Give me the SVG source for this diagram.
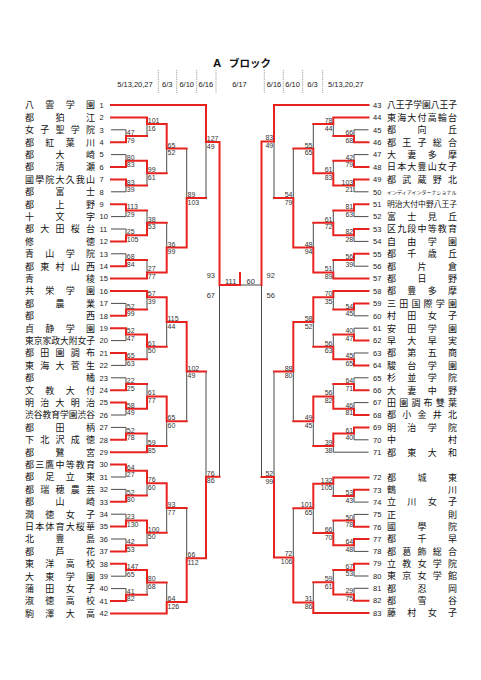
<svg xmlns="http://www.w3.org/2000/svg" width="481" height="680" viewBox="0 0 481 680">
<style>
.k{fill:none;stroke:#4a4a4a;stroke-width:1}
.r{fill:none;stroke:#e8231f;stroke-width:2;stroke-linecap:square}
.dv{fill:none;stroke:#8a8a8a;stroke-width:0.8;stroke-dasharray:1.2 1}
.nm{font-family:"Noto Sans CJK JP","Noto Sans CJK SC",sans-serif;font-size:9px;fill:#111}
.nm8{font-family:"Noto Sans CJK JP","Noto Sans CJK SC",sans-serif;font-size:8.75px;fill:#111}
.nm9{font-family:"Noto Sans CJK JP","Noto Sans CJK SC",sans-serif;font-size:7.8px;fill:#111}
.nms{font-family:"Noto Sans CJK JP","Noto Sans CJK SC",sans-serif;font-size:5px;fill:#111}
.no{font-family:"Liberation Sans",Arial,sans-serif;font-size:7.5px;fill:#222}
.hd{font-family:"Liberation Sans",Arial,sans-serif;font-size:7.5px;fill:#222;text-anchor:middle}
.sl text{font-family:"Liberation Sans",Arial,sans-serif;font-size:7px;fill:#333}
.sr text{font-family:"Liberation Sans",Arial,sans-serif;font-size:7px;fill:#333;text-anchor:end}
.big{font-family:"Liberation Sans",Arial,sans-serif;font-size:7.5px;fill:#333}
</style>
<rect width="481" height="680" fill="#fff"/>
<g id="header">
<text x="213" y="67" font-family="Liberation Sans,Arial,sans-serif" font-weight="bold" font-size="11.5" fill="#111">A</text>
<text x="229" y="67" font-family="Noto Sans CJK JP,sans-serif" font-weight="bold" font-size="10.5" fill="#111">ブロック</text>
<text class="hd" x="135" y="86.5">5/13,20,27</text>
<text class="hd" x="167.3" y="86.5">6/3</text>
<text class="hd" x="186.7" y="86.5">6/10</text>
<text class="hd" x="205.8" y="86.5">6/16</text>
<text class="hd" x="239.5" y="86.5">6/17</text>
<text class="hd" x="274" y="86.5">6/16</text>
<text class="hd" x="292.6" y="86.5">6/10</text>
<text class="hd" x="312.5" y="86.5">6/3</text>
<text class="hd" x="345.8" y="86.5">5/13,20,27</text>
<path class="dv" d="M158.3 70V93M176.7 70V93M196.7 70V93M216 70V93M264.3 70V93M283.3 70V93M302.7 70V93M322.7 70V93"/>
</g>
<g id="connectors">
<path class="k" d="M111 129.8H126V136M147 136V124M111 154.6H126V160.8M111 191.8H126V185.6M147 185.6V173.2M166.7 173.2V148.6M111 216.6H126V210.4M111 229H126V235.2M147 210.4V222.8M111 253.8H126V260M147 260V272.4M166.7 222.8V247.6M186.7 148.6V198.1M206 198.1V142M111 303.4H126V309.6M147 309.6V297.2M111 340.6H126V334.4M111 365.4H126V359.2M147 359.2V346.8M166.7 346.8V322M111 377.8H126V384M111 415H126V408.8M147 384V396.4M111 427.4H126V433.6M147 433.6V446M166.7 446V421.2M186.7 421.2V371.6M111 477H126V470.8M111 489.4H126V495.6M147 495.6V483.2M111 514.2H126V520.4M111 539H126V545.2M147 545.2V532.8M166.7 532.8V508M111 576.2H126V570M111 588.6H126V594.8M147 594.8V582.4M166.7 582.4V602M186.7 508V558.3M206 371.6V476.7M219.5 476.7V285M261.5 285H240"/>
<path class="k" d="M368.5 129.8H354V136M333.3 136V124M368.5 154.6H354V160.8M368.5 191.8H354V185.6M333.3 160.8V173.2M313.3 124V148.6M368.5 216.6H354V210.4M368.5 241.4H354V235.2M333.3 210.4V222.8M368.5 266.2H354V260M333.3 260V272.4M313.3 222.8V247.6M293.3 148.6V198.1M274 198.1V141.5M368.5 315.8H354V309.6M333.3 309.6V297.2M368.5 328.2H354V334.4M368.5 353H354V359.2M333.3 334.4V346.8M313.3 346.8V322M368.5 377.8H354V384M368.5 402.6H354V408.8M333.3 384V396.4M368.5 439.8H354V433.6M368.5 452.2H333.3V446M313.3 446V421.2M293.3 421.2V371.6M368.5 502.1H354V496M333.3 496V483.7M368.5 514.4H354V520.6M368.5 551.4H354V545.3M333.3 520.6V533M313.3 533V508.3M368.5 576H354V569.9M368.5 588.3H354V594.5M333.3 569.9V582.2M313.3 582.2V602.5M293.3 508.3V557.5M274 371.6V477M261.5 477V285"/>
<path class="r" d="M111 142.2H126V136M111 117.4H147V124M126 136H147M111 167H126V160.8M111 179.4H126V185.6M126 160.8H147V173.2M126 185.6H147M147 124H166.7V148.6M147 173.2H166.7M111 204.2H126V210.4M111 241.4H126V235.2M126 210.4H147M126 235.2H147V222.8M111 266.2H126V260M126 260H147M111 278.6H147V272.4M147 222.8H166.7M147 272.4H166.7V247.6M166.7 148.6H186.7M166.7 247.6H186.7V198.1M111 105H206V142M186.7 198.1H206M111 315.8H126V309.6M111 291H147V297.2M126 309.6H147M111 328.2H126V334.4M111 353H126V359.2M126 334.4H147V346.8M126 359.2H147M147 297.2H166.7V322M147 346.8H166.7M111 390.2H126V384M111 402.6H126V408.8M126 384H147M126 408.8H147V396.4M111 439.8H126V433.6M126 433.6H147M111 452.2H147V446M147 396.4H166.7V421.2M147 446H166.7M166.7 322H186.7V371.6M166.7 421.2H186.7M111 464.6H126V470.8M111 501.8H126V495.6M126 470.8H147V483.2M126 495.6H147M111 526.6H126V520.4M111 551.4H126V545.2M126 520.4H147V532.8M126 545.2H147M147 483.2H166.7V508M147 532.8H166.7M111 563.8H126V570M111 601H126V594.8M126 570H147V582.4M126 594.8H147M147 582.4H166.7M111 613.4H166.7V602M166.7 508H186.7M166.7 602H186.7V558.3M186.7 371.6H206M186.7 558.3H206V476.7M206 142H219.5V285M206 476.7H219.5M219.5 285H240M240 285V273"/>
<path class="r" d="M368.5 142.2H354V136M368.5 117.4H333.3V124M354 136H333.3M368.5 167H354V160.8M368.5 179.4H354V185.6M354 160.8H333.3M354 185.6H333.3V173.2M333.3 124H313.3M333.3 173.2H313.3V148.6M368.5 204.2H354V210.4M368.5 229H354V235.2M354 210.4H333.3M354 235.2H333.3V222.8M368.5 253.8H354V260M354 260H333.3M368.5 278.6H333.3V272.4M333.3 222.8H313.3M333.3 272.4H313.3V247.6M313.3 148.6H293.3M313.3 247.6H293.3V198.1M368.5 105H274V141.5M293.3 198.1H274M368.5 303.4H354V309.6M368.5 291H333.3V297.2M354 309.6H333.3M368.5 340.6H354V334.4M368.5 365.4H354V359.2M354 334.4H333.3M354 359.2H333.3V346.8M333.3 297.2H313.3V322M333.3 346.8H313.3M368.5 390.2H354V384M368.5 415H354V408.8M354 384H333.3M354 408.8H333.3V396.4M368.5 427.4H354V433.6M354 433.6H333.3V446M333.3 396.4H313.3V421.2M333.3 446H313.3M313.3 322H293.3V371.6M313.3 421.2H293.3M368.5 489.8H354V496M368.5 477.5H333.3V483.7M354 496H333.3M368.5 526.8H354V520.6M368.5 539.1H354V545.3M354 520.6H333.3M354 545.3H333.3V533M333.3 483.7H313.3V508.3M333.3 533H313.3M368.5 563.7H354V569.9M368.5 600.7H354V594.5M354 569.9H333.3M354 594.5H333.3V582.2M333.3 582.2H313.3M368.5 613H313.3V602.5M313.3 508.3H293.3M313.3 602.5H293.3V557.5M293.3 371.6H274M293.3 557.5H274V477M274 141.5H261.5V285M274 477H261.5"/>
</g>
<g id="scores-left" class="sl">
<g transform="translate(126.8 136)"><text y="-1.1">47</text><text y="6.6">79</text></g>
<g transform="translate(147.8 124)"><text y="-1.1">101</text><text y="6.6">16</text></g>
<g transform="translate(126.8 160.8)"><text y="-1.1">80</text><text y="6.6">83</text></g>
<g transform="translate(126.8 185.6)"><text y="-1.1">83</text><text y="6.6">39</text></g>
<g transform="translate(147.8 173.2)"><text y="-1.1">99</text><text y="6.6">61</text></g>
<g transform="translate(167.5 148.6)"><text y="-1.1">65</text><text y="6.6">52</text></g>
<g transform="translate(126.8 210.4)"><text y="-1.1">113</text><text y="6.6">29</text></g>
<g transform="translate(126.8 235.2)"><text y="-1.1">25</text><text y="6.6">105</text></g>
<g transform="translate(147.8 222.8)"><text y="-1.1">38</text><text y="6.6">53</text></g>
<g transform="translate(126.8 260)"><text y="-1.1">68</text><text y="6.6">84</text></g>
<g transform="translate(147.8 272.4)"><text y="-1.1">27</text><text y="6.6">77</text></g>
<g transform="translate(167.5 247.6)"><text y="-1.1">36</text><text y="6.6">99</text></g>
<g transform="translate(187.5 198.1)"><text y="-1.1">89</text><text y="6.6">103</text></g>
<g transform="translate(206.8 142)"><text y="-1.1">127</text><text y="6.6">49</text></g>
<g transform="translate(126.8 309.6)"><text y="-1.1">52</text><text y="6.6">99</text></g>
<g transform="translate(147.8 297.2)"><text y="-1.1">57</text><text y="6.6">39</text></g>
<g transform="translate(126.8 334.4)"><text y="-1.1">52</text><text y="6.6">47</text></g>
<g transform="translate(126.8 359.2)"><text y="-1.1">65</text><text y="6.6">63</text></g>
<g transform="translate(147.8 346.8)"><text y="-1.1">61</text><text y="6.6">50</text></g>
<g transform="translate(167.5 322)"><text y="-1.1">115</text><text y="6.6">44</text></g>
<g transform="translate(126.8 384)"><text y="-1.1">22</text><text y="6.6">25</text></g>
<g transform="translate(126.8 408.8)"><text y="-1.1">58</text><text y="6.6">49</text></g>
<g transform="translate(147.8 396.4)"><text y="-1.1">61</text><text y="6.6">77</text></g>
<g transform="translate(126.8 433.6)"><text y="-1.1">52</text><text y="6.6">78</text></g>
<g transform="translate(147.8 446)"><text y="-1.1">59</text><text y="6.6">85</text></g>
<g transform="translate(167.5 421.2)"><text y="-1.1">65</text><text y="6.6">60</text></g>
<g transform="translate(187.5 371.6)"><text y="-1.1">102</text><text y="6.6">49</text></g>
<g transform="translate(126.8 470.8)"><text y="-1.1">64</text><text y="6.6">27</text></g>
<g transform="translate(126.8 495.6)"><text y="-1.1">52</text><text y="6.6">80</text></g>
<g transform="translate(147.8 483.2)"><text y="-1.1">76</text><text y="6.6">60</text></g>
<g transform="translate(126.8 520.4)"><text y="-1.1">23</text><text y="6.6">130</text></g>
<g transform="translate(126.8 545.2)"><text y="-1.1">42</text><text y="6.6">53</text></g>
<g transform="translate(147.8 532.8)"><text y="-1.1">100</text><text y="6.6">50</text></g>
<g transform="translate(167.5 508)"><text y="-1.1">93</text><text y="6.6">77</text></g>
<g transform="translate(126.8 570)"><text y="-1.1">147</text><text y="6.6">65</text></g>
<g transform="translate(126.8 594.8)"><text y="-1.1">41</text><text y="6.6">82</text></g>
<g transform="translate(147.8 582.4)"><text y="-1.1">80</text><text y="6.6">68</text></g>
<g transform="translate(167.5 602)"><text y="-1.1">64</text><text y="6.6">126</text></g>
<g transform="translate(187.5 558.3)"><text y="-1.1">66</text><text y="6.6">112</text></g>
<g transform="translate(206.8 476.7)"><text y="-1.1">76</text><text y="6.6">86</text></g>
</g>
<g id="scores-right" class="sr">
<g transform="translate(353.2 136)"><text y="-1.1">66</text><text y="6.6">68</text></g>
<g transform="translate(332.5 124)"><text y="-1.1">78</text><text y="6.6">44</text></g>
<g transform="translate(353.2 160.8)"><text y="-1.1">42</text><text y="6.6">79</text></g>
<g transform="translate(353.2 185.6)"><text y="-1.1">103</text><text y="6.6">21</text></g>
<g transform="translate(332.5 173.2)"><text y="-1.1">61</text><text y="6.6">83</text></g>
<g transform="translate(312.5 148.6)"><text y="-1.1">55</text><text y="6.6">65</text></g>
<g transform="translate(353.2 210.4)"><text y="-1.1">81</text><text y="6.6">63</text></g>
<g transform="translate(353.2 235.2)"><text y="-1.1">82</text><text y="6.6">28</text></g>
<g transform="translate(332.5 222.8)"><text y="-1.1">61</text><text y="6.6">72</text></g>
<g transform="translate(353.2 260)"><text y="-1.1">56</text><text y="6.6">39</text></g>
<g transform="translate(332.5 272.4)"><text y="-1.1">51</text><text y="6.6">89</text></g>
<g transform="translate(312.5 247.6)"><text y="-1.1">48</text><text y="6.6">94</text></g>
<g transform="translate(292.5 198.1)"><text y="-1.1">54</text><text y="6.6">79</text></g>
<g transform="translate(273.2 141.5)"><text y="-1.1">83</text><text y="6.6">49</text></g>
<g transform="translate(353.2 309.6)"><text y="-1.1">54</text><text y="6.6">45</text></g>
<g transform="translate(332.5 297.2)"><text y="-1.1">70</text><text y="6.6">35</text></g>
<g transform="translate(353.2 334.4)"><text y="-1.1">40</text><text y="6.6">47</text></g>
<g transform="translate(353.2 359.2)"><text y="-1.1">45</text><text y="6.6">65</text></g>
<g transform="translate(332.5 346.8)"><text y="-1.1">56</text><text y="6.6">63</text></g>
<g transform="translate(312.5 322)"><text y="-1.1">58</text><text y="6.6">52</text></g>
<g transform="translate(353.2 384)"><text y="-1.1">64</text><text y="6.6">71</text></g>
<g transform="translate(353.2 408.8)"><text y="-1.1">46</text><text y="6.6">81</text></g>
<g transform="translate(332.5 396.4)"><text y="-1.1">56</text><text y="6.6">82</text></g>
<g transform="translate(353.2 433.6)"><text y="-1.1">61</text><text y="6.6">40</text></g>
<g transform="translate(332.5 446)"><text y="-1.1">39</text><text y="6.6">38</text></g>
<g transform="translate(312.5 421.2)"><text y="-1.1">49</text><text y="6.6">45</text></g>
<g transform="translate(292.5 371.6)"><text y="-1.1">88</text><text y="6.6">80</text></g>
<g transform="translate(353.2 496)"><text y="-1.1">53</text><text y="6.6">43</text></g>
<g transform="translate(332.5 483.7)"><text y="-1.1">132</text><text y="6.6">105</text></g>
<g transform="translate(353.2 520.6)"><text y="-1.1">50</text><text y="6.6">78</text></g>
<g transform="translate(353.2 545.3)"><text y="-1.1">64</text><text y="6.6">48</text></g>
<g transform="translate(332.5 533)"><text y="-1.1">66</text><text y="6.6">70</text></g>
<g transform="translate(312.5 508.3)"><text y="-1.1">101</text><text y="6.6">65</text></g>
<g transform="translate(353.2 569.9)"><text y="-1.1">67</text><text y="6.6">53</text></g>
<g transform="translate(353.2 594.5)"><text y="-1.1">29</text><text y="6.6">75</text></g>
<g transform="translate(332.5 582.2)"><text y="-1.1">59</text><text y="6.6">61</text></g>
<g transform="translate(312.5 602.5)"><text y="-1.1">31</text><text y="6.6">86</text></g>
<g transform="translate(292.5 557.5)"><text y="-1.1">72</text><text y="6.6">106</text></g>
<g transform="translate(273.2 477)"><text y="-1.1">52</text><text y="6.6">99</text></g>
</g>
<g id="scores-final">
<text class="big" x="215" y="278" text-anchor="end">93</text>
<text class="big" x="215" y="297.5" text-anchor="end">67</text>
<text class="big" x="266.5" y="278">92</text>
<text class="big" x="266.5" y="297.5">56</text>
<text class="big" x="225" y="283.8">111</text>
<text class="big" x="246.5" y="283.8">60</text>
</g>
<g id="teams-left">
<g id="t1" transform="translate(0 105)"><text class="nm" x="25 45.3 65.7 86" y="3.3">八雲学園</text><text class="no" x="99.5" y="2.7">1</text></g>
<g id="t2" transform="translate(0 117.4)"><text class="nm" x="25 55.5 86" y="3.3">都狛江</text><text class="no" x="99.5" y="2.7">2</text></g>
<g id="t3" transform="translate(0 129.8)"><text class="nm" x="25 40.3 55.5 70.8 86" y="3.3">女子聖学院</text><text class="no" x="99.5" y="2.7">3</text></g>
<g id="t4" transform="translate(0 142.2)"><text class="nm" x="25 45.3 65.7 86" y="3.3">都紅葉川</text><text class="no" x="99.5" y="2.7">4</text></g>
<g id="t5" transform="translate(0 154.6)"><text class="nm" x="25 55.5 86" y="3.3">都大崎</text><text class="no" x="99.5" y="2.7">5</text></g>
<g id="t6" transform="translate(0 167)"><text class="nm" x="25 55.5 86" y="3.3">都清瀬</text><text class="no" x="99.5" y="2.7">6</text></g>
<g id="t7" transform="translate(0 179.4)"><text class="nm" x="25 35.2 45.3 55.5 65.7 75.8 86" y="3.3">國學院大久我山</text><text class="no" x="99.5" y="2.7">7</text></g>
<g id="t8" transform="translate(0 191.8)"><text class="nm" x="25 55.5 86" y="3.3">都富士</text><text class="no" x="99.5" y="2.7">8</text></g>
<g id="t9" transform="translate(0 204.2)"><text class="nm" x="25 55.5 86" y="3.3">都上野</text><text class="no" x="99.5" y="2.7">9</text></g>
<g id="t10" transform="translate(0 216.6)"><text class="nm" x="25 55.5 86" y="3.3">十文字</text><text class="no" x="99.5" y="2.7">10</text></g>
<g id="t11" transform="translate(0 229)"><text class="nm" x="25 40.3 55.5 70.8 86" y="3.3">都大田桜台</text><text class="no" x="99.5" y="2.7">11</text></g>
<g id="t12" transform="translate(0 241.4)"><text class="nm" x="25 86" y="3.3">修徳</text><text class="no" x="99.5" y="2.7">12</text></g>
<g id="t13" transform="translate(0 253.8)"><text class="nm" x="25 45.3 65.7 86" y="3.3">青山学院</text><text class="no" x="99.5" y="2.7">13</text></g>
<g id="t14" transform="translate(0 266.2)"><text class="nm" x="25 40.3 55.5 70.8 86" y="3.3">都東村山西</text><text class="no" x="99.5" y="2.7">14</text></g>
<g id="t15" transform="translate(0 278.6)"><text class="nm" x="25 86" y="3.3">青稜</text><text class="no" x="99.5" y="2.7">15</text></g>
<g id="t16" transform="translate(0 291)"><text class="nm" x="25 45.3 65.7 86" y="3.3">共栄学園</text><text class="no" x="99.5" y="2.7">16</text></g>
<g id="t17" transform="translate(0 303.4)"><text class="nm" x="25 55.5 86" y="3.3">都農業</text><text class="no" x="99.5" y="2.7">17</text></g>
<g id="t18" transform="translate(0 315.8)"><text class="nm" x="25 86" y="3.3">都西</text><text class="no" x="99.5" y="2.7">18</text></g>
<g id="t19" transform="translate(0 328.2)"><text class="nm" x="25 45.3 65.7 86" y="3.3">貞静学園</text><text class="no" x="99.5" y="2.7">19</text></g>
<g id="t20" transform="translate(0 340.6)"><text class="nm8" x="25 33.8 42.5 51.3 60 68.8 77.5 86.3" y="3.3">東京家政大附女子</text><text class="no" x="99.5" y="2.7">20</text></g>
<g id="t21" transform="translate(0 353)"><text class="nm" x="25 40.3 55.5 70.8 86" y="3.3">都田園調布</text><text class="no" x="99.5" y="2.7">21</text></g>
<g id="t22" transform="translate(0 365.4)"><text class="nm" x="25 40.3 55.5 70.8 86" y="3.3">東海大菅生</text><text class="no" x="99.5" y="2.7">22</text></g>
<g id="t23" transform="translate(0 377.8)"><text class="nm" x="25 86" y="3.3">都橘</text><text class="no" x="99.5" y="2.7">23</text></g>
<g id="t24" transform="translate(0 390.2)"><text class="nm" x="25 45.3 65.7 86" y="3.3">文教大付</text><text class="no" x="99.5" y="2.7">24</text></g>
<g id="t25" transform="translate(0 402.6)"><text class="nm" x="25 40.3 55.5 70.8 86" y="3.3">明治大明治</text><text class="no" x="99.5" y="2.7">25</text></g>
<g id="t26" transform="translate(0 415)"><text class="nm8" x="25 33.8 42.5 51.3 60 68.8 77.5 86.3" y="3.3">渋谷教育学園渋谷</text><text class="no" x="99.5" y="2.7">26</text></g>
<g id="t27" transform="translate(0 427.4)"><text class="nm" x="25 55.5 86" y="3.3">都田柄</text><text class="no" x="99.5" y="2.7">27</text></g>
<g id="t28" transform="translate(0 439.8)"><text class="nm" x="25 40.3 55.5 70.8 86" y="3.3">下北沢成徳</text><text class="no" x="99.5" y="2.7">28</text></g>
<g id="t29" transform="translate(0 452.2)"><text class="nm" x="25 55.5 86" y="3.3">都鷺宮</text><text class="no" x="99.5" y="2.7">29</text></g>
<g id="t30" transform="translate(0 464.6)"><text class="nm" x="25 35.2 45.3 55.5 65.7 75.8 86" y="3.3">都三鷹中等教育</text><text class="no" x="99.5" y="2.7">30</text></g>
<g id="t31" transform="translate(0 477)"><text class="nm" x="25 45.3 65.7 86" y="3.3">都足立東</text><text class="no" x="99.5" y="2.7">31</text></g>
<g id="t32" transform="translate(0 489.4)"><text class="nm" x="25 40.3 55.5 70.8 86" y="3.3">都瑞穂農芸</text><text class="no" x="99.5" y="2.7">32</text></g>
<g id="t33" transform="translate(0 501.8)"><text class="nm" x="25 55.5 86" y="3.3">都山崎</text><text class="no" x="99.5" y="2.7">33</text></g>
<g id="t34" transform="translate(0 514.2)"><text class="nm" x="25 45.3 65.7 86" y="3.3">潤徳女子</text><text class="no" x="99.5" y="2.7">34</text></g>
<g id="t35" transform="translate(0 526.6)"><text class="nm" x="25 35.2 45.3 55.5 65.7 75.8 86" y="3.3">日本体育大桜華</text><text class="no" x="99.5" y="2.7">35</text></g>
<g id="t36" transform="translate(0 539)"><text class="nm" x="25 55.5 86" y="3.3">北豊島</text><text class="no" x="99.5" y="2.7">36</text></g>
<g id="t37" transform="translate(0 551.4)"><text class="nm" x="25 55.5 86" y="3.3">都芦花</text><text class="no" x="99.5" y="2.7">37</text></g>
<g id="t38" transform="translate(0 563.8)"><text class="nm" x="25 45.3 65.7 86" y="3.3">東洋高校</text><text class="no" x="99.5" y="2.7">38</text></g>
<g id="t39" transform="translate(0 576.2)"><text class="nm" x="25 45.3 65.7 86" y="3.3">大東学園</text><text class="no" x="99.5" y="2.7">39</text></g>
<g id="t40" transform="translate(0 588.6)"><text class="nm" x="25 45.3 65.7 86" y="3.3">蒲田女子</text><text class="no" x="99.5" y="2.7">40</text></g>
<g id="t41" transform="translate(0 601)"><text class="nm" x="25 45.3 65.7 86" y="3.3">淑徳高校</text><text class="no" x="99.5" y="2.7">41</text></g>
<g id="t42" transform="translate(0 613.4)"><text class="nm" x="25 45.3 65.7 86" y="3.3">駒澤大高</text><text class="no" x="99.5" y="2.7">42</text></g>
</g>
<g id="teams-right">
<g id="t43" transform="translate(0 105)"><text class="no" x="373" y="2.7">43</text><text class="nm8" x="387 395.8 404.5 413.3 422 430.8 439.5 448.3" y="3.3">八王子学園八王子</text></g>
<g id="t44" transform="translate(0 117.4)"><text class="no" x="373" y="2.7">44</text><text class="nm" x="387 397.2 407.3 417.5 427.7 437.8 448" y="3.3">東海大付高輪台</text></g>
<g id="t45" transform="translate(0 129.8)"><text class="no" x="373" y="2.7">45</text><text class="nm" x="387 417.5 448" y="3.3">都向丘</text></g>
<g id="t46" transform="translate(0 142.2)"><text class="no" x="373" y="2.7">46</text><text class="nm" x="387 402.3 417.5 432.8 448" y="3.3">都王子総合</text></g>
<g id="t47" transform="translate(0 154.6)"><text class="no" x="373" y="2.7">47</text><text class="nm" x="387 407.3 427.7 448" y="3.3">大妻多摩</text></g>
<g id="t48" transform="translate(0 167)"><text class="no" x="373" y="2.7">48</text><text class="nm" x="387 397.2 407.3 417.5 427.7 437.8 448" y="3.3">日本大豊山女子</text></g>
<g id="t49" transform="translate(0 179.4)"><text class="no" x="373" y="2.7">49</text><text class="nm" x="387 402.3 417.5 432.8 448" y="3.3">都武蔵野北</text></g>
<g id="t50" transform="translate(0 191.8)"><text class="no" x="373" y="2.7">50</text><text class="nms" x="387" y="1.8">インディアインターナショナル</text></g>
<g id="t51" transform="translate(0 204.2)"><text class="no" x="373" y="2.7">51</text><text class="nm9" x="387 394.8 402.6 410.3 418.1 425.9 433.7 441.4 449.2" y="3">明治大付中野八王子</text></g>
<g id="t52" transform="translate(0 216.6)"><text class="no" x="373" y="2.7">52</text><text class="nm" x="387 407.3 427.7 448" y="3.3">富士見丘</text></g>
<g id="t53" transform="translate(0 229)"><text class="no" x="373" y="2.7">53</text><text class="nm" x="387 397.2 407.3 417.5 427.7 437.8 448" y="3.3">区九段中等教育</text></g>
<g id="t54" transform="translate(0 241.4)"><text class="no" x="373" y="2.7">54</text><text class="nm" x="387 407.3 427.7 448" y="3.3">自由学園</text></g>
<g id="t55" transform="translate(0 253.8)"><text class="no" x="373" y="2.7">55</text><text class="nm" x="387 407.3 427.7 448" y="3.3">都千歳丘</text></g>
<g id="t56" transform="translate(0 266.2)"><text class="no" x="373" y="2.7">56</text><text class="nm" x="387 417.5 448" y="3.3">都片倉</text></g>
<g id="t57" transform="translate(0 278.6)"><text class="no" x="373" y="2.7">57</text><text class="nm" x="387 417.5 448" y="3.3">都日野</text></g>
<g id="t58" transform="translate(0 291)"><text class="no" x="373" y="2.7">58</text><text class="nm" x="387 407.3 427.7 448" y="3.3">都豊多摩</text></g>
<g id="t59" transform="translate(0 303.4)"><text class="no" x="373" y="2.7">59</text><text class="nm" x="387 399.2 411.4 423.6 435.8 448" y="3.3">三田国際学園</text></g>
<g id="t60" transform="translate(0 315.8)"><text class="no" x="373" y="2.7">60</text><text class="nm" x="387 407.3 427.7 448" y="3.3">村田女子</text></g>
<g id="t61" transform="translate(0 328.2)"><text class="no" x="373" y="2.7">61</text><text class="nm" x="387 407.3 427.7 448" y="3.3">安田学園</text></g>
<g id="t62" transform="translate(0 340.6)"><text class="no" x="373" y="2.7">62</text><text class="nm" x="387 407.3 427.7 448" y="3.3">早大早実</text></g>
<g id="t63" transform="translate(0 353)"><text class="no" x="373" y="2.7">63</text><text class="nm" x="387 407.3 427.7 448" y="3.3">都第五商</text></g>
<g id="t64" transform="translate(0 365.4)"><text class="no" x="373" y="2.7">64</text><text class="nm" x="387 407.3 427.7 448" y="3.3">駿台学園</text></g>
<g id="t65" transform="translate(0 377.8)"><text class="no" x="373" y="2.7">65</text><text class="nm" x="387 407.3 427.7 448" y="3.3">杉並学院</text></g>
<g id="t66" transform="translate(0 390.2)"><text class="no" x="373" y="2.7">66</text><text class="nm" x="387 407.3 427.7 448" y="3.3">大妻中野</text></g>
<g id="t67" transform="translate(0 402.6)"><text class="no" x="373" y="2.7">67</text><text class="nm" x="387 399.2 411.4 423.6 435.8 448" y="3.3">田園調布雙葉</text></g>
<g id="t68" transform="translate(0 415)"><text class="no" x="373" y="2.7">68</text><text class="nm" x="387 402.3 417.5 432.8 448" y="3.3">都小金井北</text></g>
<g id="t69" transform="translate(0 427.4)"><text class="no" x="373" y="2.7">69</text><text class="nm" x="387 407.3 427.7 448" y="3.3">明治学院</text></g>
<g id="t70" transform="translate(0 439.8)"><text class="no" x="373" y="2.7">70</text><text class="nm" x="387 448" y="3.3">中村</text></g>
<g id="t71" transform="translate(0 452.2)"><text class="no" x="373" y="2.7">71</text><text class="nm" x="387 407.3 427.7 448" y="3.3">都東大和</text></g>
<g id="t72" transform="translate(0 477.5)"><text class="no" x="373" y="2.7">72</text><text class="nm" x="387 417.5 448" y="3.3">都城東</text></g>
<g id="t73" transform="translate(0 489.8)"><text class="no" x="373" y="2.7">73</text><text class="nm" x="387 448" y="3.3">鶴川</text></g>
<g id="t74" transform="translate(0 502.1)"><text class="no" x="373" y="2.7">74</text><text class="nm" x="387 407.3 427.7 448" y="3.3">立川女子</text></g>
<g id="t75" transform="translate(0 514.4)"><text class="no" x="373" y="2.7">75</text><text class="nm" x="387 448" y="3.3">正則</text></g>
<g id="t76" transform="translate(0 526.8)"><text class="no" x="373" y="2.7">76</text><text class="nm" x="387 417.5 448" y="3.3">國學院</text></g>
<g id="t77" transform="translate(0 539.1)"><text class="no" x="373" y="2.7">77</text><text class="nm" x="387 417.5 448" y="3.3">都千早</text></g>
<g id="t78" transform="translate(0 551.4)"><text class="no" x="373" y="2.7">78</text><text class="nm" x="387 402.3 417.5 432.8 448" y="3.3">都葛飾総合</text></g>
<g id="t79" transform="translate(0 563.7)"><text class="no" x="373" y="2.7">79</text><text class="nm" x="387 402.3 417.5 432.8 448" y="3.3">立教女学院</text></g>
<g id="t80" transform="translate(0 576)"><text class="no" x="373" y="2.7">80</text><text class="nm" x="387 402.3 417.5 432.8 448" y="3.3">東京女学館</text></g>
<g id="t81" transform="translate(0 588.3)"><text class="no" x="373" y="2.7">81</text><text class="nm" x="387 417.5 448" y="3.3">都忍岡</text></g>
<g id="t82" transform="translate(0 600.7)"><text class="no" x="373" y="2.7">82</text><text class="nm" x="387 417.5 448" y="3.3">都雪谷</text></g>
<g id="t83" transform="translate(0 613)"><text class="no" x="373" y="2.7">83</text><text class="nm" x="387 407.3 427.7 448" y="3.3">藤村女子</text></g>
</g>
</svg>
